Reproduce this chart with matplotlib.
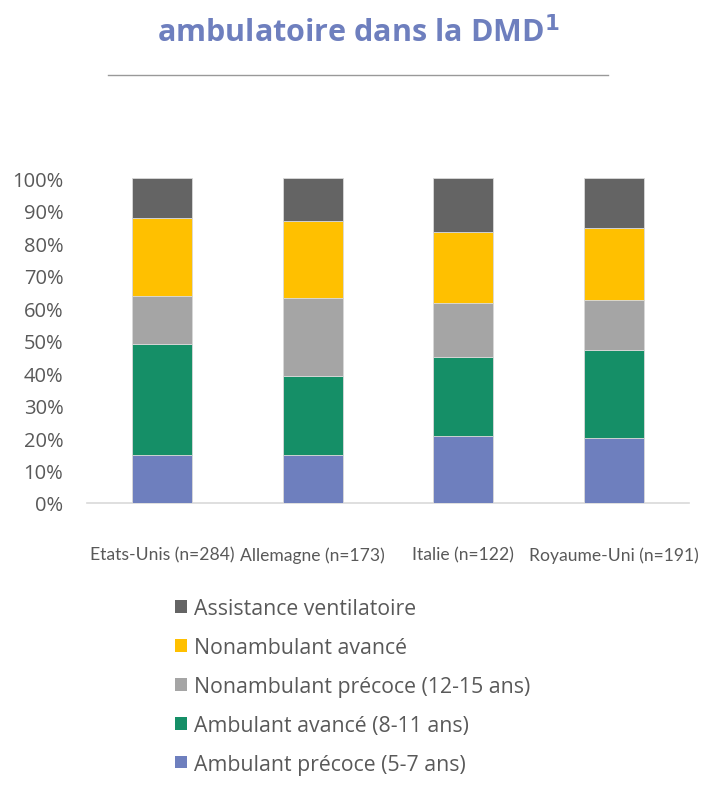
import matplotlib
matplotlib.use("Agg")
import matplotlib.pyplot as plt
from matplotlib.patches import Patch
from matplotlib.lines import Line2D
from matplotlib.ticker import PercentFormatter

categories = ["Etats-Unis (n=284)", "Allemagne (n=173)", "Italie (n=122)", "Royaume-Uni (n=191)"]
series_names = ["Ambulant précoce (5-7 ans)", "Ambulant avancé (8-11 ans)",
                "Nonambulant précoce (12-15 ans)", "Nonambulant avancé", "Assistance ventilatoire"]
ambulant_precoce = [14.8, 14.8, 20.6, 20.1]
ambulant_avance = [34.1, 24.4, 24.3, 27.1]
nonamb_precoce = [15.0, 23.9, 16.7, 15.4]
nonamb_avance = [23.9, 23.9, 21.8, 22.2]
assistance = [12.2, 13.0, 16.6, 15.2]
colors = ["#6E7FBE", "#158F67", "#A5A5A5", "#FFC000", "#646464"]

series = [ambulant_precoce, ambulant_avance, nonamb_precoce, nonamb_avance, assistance]

fig = plt.figure(figsize=(7.16, 8.04), dpi=100)
ax = fig.add_axes([87/716, 1-504/804, 602/716, (504-179.3)/804])

x = list(range(len(categories)))
bottom = [0.0]*len(categories)
for vals, col, name in zip(series, colors, series_names):
    ax.bar(x, vals, width=0.4, bottom=bottom, color=col, edgecolor="#D9D9D9", linewidth=0.6, label=name, zorder=3)
    bottom = [b+v for b, v in zip(bottom, vals)]

ax.set_xlim(-0.5, 3.5)
ax.set_ylim(0, 100)
ax.set_yticks(range(0, 101, 10))
ax.yaxis.set_major_formatter(PercentFormatter(100, decimals=0))
ax.set_xticks(x)
ax.set_xticklabels(categories, family=["Lato", "DejaVu Sans"], fontsize=12.6, color="#595959")
for lab in ax.get_yticklabels():
    lab.set_family(["Open Sans", "DejaVu Sans"])
    lab.set_fontsize(14.5)
    lab.set_color("#595959")
ax.tick_params(axis="both", length=0)
ax.tick_params(axis="x", pad=31)
ax.tick_params(axis="y", pad=17)
for s in ["top", "right", "left"]:
    ax.spines[s].set_visible(False)
ax.spines["bottom"].set_color("#D9D9D9")
ax.spines["bottom"].set_linewidth(1.2)

# Title (visible line) and rule
fig.text(0.5, 1-33/804, "ambulatoire dans la DMD$^{\\mathbf{1}}$", ha="center", va="center",
         fontsize=22, fontweight="bold", color="#6E7FBE", family=["Open Sans", "DejaVu Sans"])
fig.add_artist(Line2D([108/716, 608/716], [1-76/804, 1-76/804], color="#999999", linewidth=1.0))

handles = [Patch(facecolor=c, edgecolor="none") for c in colors][::-1]
leg = fig.legend(handles, series_names[::-1], loc="upper left",
                 bbox_to_anchor=(156/716, 1-580/804), frameon=False,
                 prop={"family": ["Open Sans", "DejaVu Sans"], "size": 15.3},
                 handlelength=0.55, handleheight=0.55, handletextpad=0.35, labelspacing=0.84)
for t in leg.get_texts():
    t.set_color("#595959")

fig.savefig("out.png", dpi=100)
